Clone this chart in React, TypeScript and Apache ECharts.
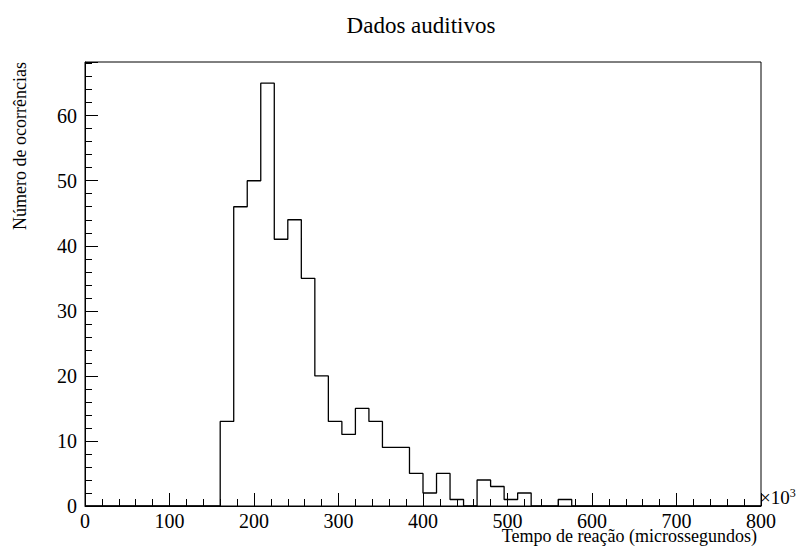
import React, { useEffect, useRef } from "react";
import * as echarts from "echarts";

const binStart = 0;
const binWidth = 16;
const counts = [
  0, 0, 0, 0, 0, 0, 0, 0, 0, 0,
  13, 46, 50, 65, 41, 44, 35, 20, 13, 11,
  15, 13, 9, 9, 5, 2, 5, 1, 0, 4,
  3, 1, 2, 0, 0, 1, 0, 0, 0, 0,
  0, 0, 0, 0, 0, 0, 0, 0, 0, 0,
];
const xTicks = [0, 100, 200, 300, 400, 500, 600, 700, 800];
const yMax = 68.25;

const FONT = "Liberation Serif, Times New Roman, serif";

export default function App() {
  const ref = useRef<HTMLDivElement>(null);
  useEffect(() => {
    if (!ref.current) return;
    const chart = echarts.init(ref.current, null, { renderer: "svg" });
    const pts: number[][] = [];
    counts.forEach((c, i) => {
      const lo = binStart + i * binWidth;
      pts.push([lo, c]);
      pts.push([lo + binWidth, c]);
    });
    chart.setOption({
      animation: false,
      backgroundColor: "#fff",
      grid: {
        left: 85,
        right: 40,
        top: 62,
        bottom: 41,
        show: true,
        borderColor: "#000",
        borderWidth: 1,
        backgroundColor: "transparent",
      },
      xAxis: {
        type: "value",
        min: xTicks[0],
        max: xTicks[xTicks.length - 1],
        interval: 100,
        axisLine: { show: true, onZero: false, lineStyle: { color: "#000", width: 1 } },
        axisTick: { show: true, inside: true, length: 13, lineStyle: { color: "#000" } },
        minorTick: { show: true, splitNumber: 5, length: 7, lineStyle: { color: "#000" } },
        splitLine: { show: false },
        axisLabel: { color: "#000", fontFamily: FONT, fontSize: 20, margin: 5 },
      },
      yAxis: [
        {
          type: "value",
          min: 0,
          max: yMax,
          interval: 10,
          axisLine: { show: true, lineStyle: { color: "#000", width: 1 } },
          axisTick: { show: true, inside: true, length: 13, lineStyle: { color: "#000" } },
          splitLine: { show: false },
          axisLabel: {
            color: "#000",
            fontFamily: FONT,
            fontSize: 20,
            margin: 8,
            formatter: (v: number) => (Math.abs(v % 10) < 1e-9 ? String(v) : ""),
          },
        },
        {
          type: "value",
          position: "left",
          min: 0,
          max: yMax,
          interval: 2,
          axisLine: { show: false },
          axisTick: { show: true, inside: true, length: 7, lineStyle: { color: "#000" } },
          splitLine: { show: false },
          axisLabel: { show: false },
        },
      ],
      series: [
        {
          type: "line",
          data: pts,
          symbol: "none",
          lineStyle: { color: "#000", width: 1.3 },
          xAxisIndex: 0,
          yAxisIndex: 0,
        },
      ],
      graphic: [
        {
          type: "text",
          x: 421,
          y: 25,
          style: {
            text: "Dados auditivos",
            fontFamily: FONT,
            fontSize: 23,
            fill: "#000",
            textAlign: "center",
            textVerticalAlign: "middle",
          },
        },
        {
          type: "text",
          x: 757,
          y: 536,
          style: {
            text: "Tempo de reação (microssegundos)",
            fontFamily: FONT,
            fontSize: 18,
            fill: "#000",
            textAlign: "right",
            textVerticalAlign: "middle",
          },
        },
        {
          type: "text",
          x: 20,
          y: 62,
          rotation: Math.PI / 2,
          style: {
            text: "Número de ocorrências",
            fontFamily: FONT,
            fontSize: 18,
            fill: "#000",
            textAlign: "right",
            textVerticalAlign: "middle",
          },
        },
        {
          type: "text",
          x: 760,
          y: 497,
          style: {
            text: "{a|×10}{b|3}",
            rich: {
              a: { fontFamily: FONT, fontSize: 19, fill: "#000", verticalAlign: "bottom" },
              b: { fontFamily: FONT, fontSize: 12, fill: "#000", verticalAlign: "top", padding: [0, 0, 8, 0] },
            },
            textAlign: "left",
            textVerticalAlign: "middle",
          },
        },
      ],
    });
    return () => chart.dispose();
  }, []);
  return (
    <div
      ref={ref}
      style={{ position: "fixed", left: 0, top: 0, width: 801, height: 547, background: "#fff" }}
    />
  );
}
